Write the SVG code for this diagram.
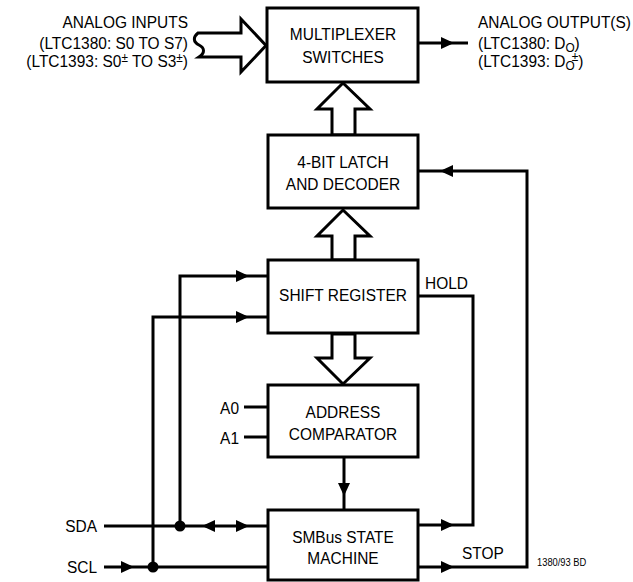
<svg xmlns="http://www.w3.org/2000/svg" xmlns:xlink="http://www.w3.org/1999/xlink" width="633" height="582" viewBox="0 0 633 582">
<style>
.box{fill:#fff;stroke:#000;stroke-width:3}
.hol{fill:#fff;stroke:#000;stroke-width:3;stroke-linejoin:miter}
.ln{fill:none;stroke:#000;stroke-width:3}
.t{font-family:"Liberation Sans",Arial,sans-serif;font-size:17px;fill:#000}
.m{text-anchor:middle}
.e{text-anchor:end}
.sm{font-size:11px}
.sup{font-size:13px}
</style>
<defs>
<path id="ah" d="M0,0 L-13,-6 L-13,6 Z" fill="#000"/>
</defs>
<rect width="633" height="582" fill="#fff"/>

<g id="connectors">
  <!-- output -->
  <line class="ln" x1="418" y1="43" x2="468" y2="43"/>
  <use xlink:href="#ah" transform="translate(454,43)"/>
  <!-- STOP to latch -->
  <polyline class="ln" points="418,567 527,567 527,171 418,171"/>
  <use xlink:href="#ah" transform="translate(440,171) rotate(180)"/>
  <use xlink:href="#ah" transform="translate(454,567)"/>
  <!-- HOLD -->
  <polyline class="ln" points="418,296 473,296 473,525 418,525"/>
  <use xlink:href="#ah" transform="translate(454,525)"/>
  <!-- comparator to state machine -->
  <line class="ln" x1="344" y1="457" x2="344" y2="510"/>
  <use xlink:href="#ah" transform="translate(344,496) rotate(90)"/>
  <!-- SDA -->
  <polyline class="ln" points="104,526 268,526"/>
  <polyline class="ln" points="180,526 180,276 268,276"/>
  <use xlink:href="#ah" transform="translate(202,526) rotate(180)"/>
  <use xlink:href="#ah" transform="translate(249,526)"/>
  <use xlink:href="#ah" transform="translate(249,276)"/>
  <circle cx="180" cy="526" r="5.5" fill="#000"/>
  <!-- SCL -->
  <polyline class="ln" points="104,567 268,567"/>
  <polyline class="ln" points="153,567 153,317 268,317"/>
  <use xlink:href="#ah" transform="translate(134,567)"/>
  <use xlink:href="#ah" transform="translate(249,317)"/>
  <circle cx="153" cy="567" r="5.5" fill="#000"/>
  <!-- A0 A1 -->
  <line class="ln" x1="244" y1="407" x2="268" y2="407"/>
  <line class="ln" x1="244" y1="437" x2="268" y2="437"/>
  <!-- hollow bus arrows -->
  <path class="hol" d="M198,33 L241,33 L241,19 L266,45.5 L241,72 L241,57 L199,57 C205,53 205,48 199,45 C193,42 193,37 198,33 Z"/>
  <polygon class="hol" points="332,135 332,109 317,109 343,83 370,109 355,109 355,135"/>
  <polygon class="hol" points="332,260 332,236 317,236 343,210 370,236 355,236 355,260"/>
  <polygon class="hol" points="332,334 332,358 317,358 343,384 370,358 355,358 355,334"/>
</g>

<g id="mux">
  <rect class="box" x="267" y="8" width="151" height="74"/>
  <text class="t m" transform="translate(343,39.5) scale(0.91,1)">MULTIPLEXER</text>
  <text class="t m" transform="translate(343,63) scale(0.91,1)">SWITCHES</text>
</g>
<g id="latch">
  <rect class="box" x="268" y="135" width="150" height="73"/>
  <text class="t m" transform="translate(343,168) scale(0.91,1)">4-BIT LATCH</text>
  <text class="t m" transform="translate(343,190) scale(0.91,1)">AND DECODER</text>
</g>
<g id="shift">
  <rect class="box" x="268" y="260" width="150" height="73"/>
  <text class="t m" transform="translate(343,300.5) scale(0.91,1)">SHIFT REGISTER</text>
</g>
<g id="addr">
  <rect class="box" x="268" y="385" width="150" height="72"/>
  <text class="t m" transform="translate(343,418) scale(0.91,1)">ADDRESS</text>
  <text class="t m" transform="translate(343,440) scale(0.91,1)">COMPARATOR</text>
</g>
<g id="smbus">
  <rect class="box" x="268" y="510" width="150" height="70"/>
  <text class="t m" transform="translate(343,542.5) scale(0.91,1)">SMBus STATE</text>
  <text class="t m" transform="translate(343,564) scale(0.91,1)">MACHINE</text>
</g>

<g id="labels">
  <text class="t e" transform="translate(188,28) scale(0.91,1)">ANALOG INPUTS</text>
  <text class="t e" transform="translate(188,49) scale(0.91,1)">(LTC1380: S0 TO S7)</text>
  <text class="t e" transform="translate(188,67) scale(0.91,1)">(LTC1393: S0<tspan class="sup" dy="-5">±</tspan><tspan dy="5"> TO S3</tspan><tspan class="sup" dy="-5">±</tspan><tspan dy="5">)</tspan></text>

  <text class="t" transform="translate(478,28) scale(0.91,1)">ANALOG OUTPUT(S)</text>
  <text class="t" transform="translate(478,48.5) scale(0.91,1)">(LTC1380: D<tspan class="sup" dy="3">O</tspan><tspan dy="-3">)</tspan></text>
  <text class="t" transform="translate(478,67) scale(0.91,1)">(LTC1393: D<tspan class="sup" dy="3">O</tspan><tspan class="sup" dx="-3" dy="-9">±</tspan><tspan dy="6">)</tspan></text>

  <text class="t" transform="translate(425,289) scale(0.91,1)">HOLD</text>
  <text class="t" transform="translate(462,559) scale(0.91,1)">STOP</text>
  <text class="t e" transform="translate(239,414) scale(0.91,1)">A0</text>
  <text class="t e" transform="translate(239,444) scale(0.91,1)">A1</text>
  <text class="t e" transform="translate(97,532) scale(0.91,1)">SDA</text>
  <text class="t e" transform="translate(97,573) scale(0.91,1)">SCL</text>
  <text class="t sm" transform="translate(537,566) scale(0.85,1)">1380/93 BD</text>
</g>
</svg>
